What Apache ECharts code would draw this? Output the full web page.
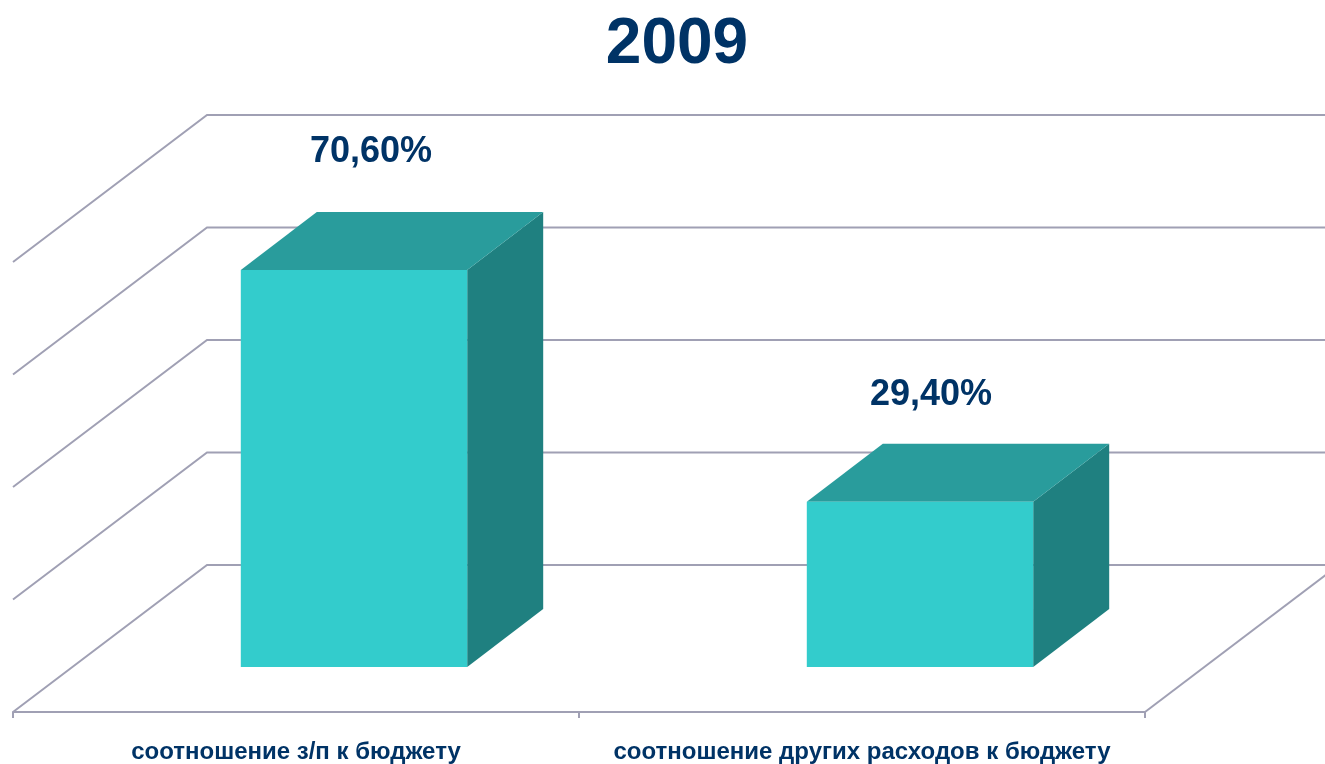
<!DOCTYPE html>
<html>
<head>
<meta charset="utf-8">
<style>html,body{margin:0;padding:0;background:#fff}#c{width:1325px;height:764px}</style>
<script src="https://cdn.jsdelivr.net/npm/echarts@6/dist/echarts.min.js"></script>
</head>
<body>
<div id="c"></div>
<script>
const titleText = '2009';
const categories = ['соотношение з/п к бюджету', 'соотношение других расходов к бюджету'];
const values = [70.6, 29.4];
const valueLabels = ['70,60%', '29,40%'];
const yTicks = [0, 20, 40, 60, 80];

// drawing constants for the oblique projection
const wallDepth = [194, -147];
const barOffset = [58, -45];
const barDepth = [76, -58];
const barWidthRatio = 0.4;
const labelShiftX = [17, 11];
const labelLift = [60, 49];

const navy = '#003366', gridColor = '#A0A0B4';

const chart = echarts.init(document.getElementById('c'), null, {renderer: 'canvas'});

function wallItem(params, api) {
  const cs = params.coordSys;
  const v = api.value(1);
  const y = api.coord([0, v])[1];
  const x0 = cs.x, x1 = cs.x + cs.width;
  const bx = x0 + wallDepth[0], by = y + wallDepth[1];
  const children = [{
    type: 'polyline',
    shape: {points: [[x0, y], [bx, by], [x1 + wallDepth[0], by]]},
    style: {stroke: gridColor, lineWidth: 2, fill: null}
  }];
  if (v === 0) {
    children.push({
      type: 'line',
      shape: {x1: x1, y1: y, x2: x1 + wallDepth[0], y2: by},
      style: {stroke: gridColor, lineWidth: 2}
    });
  }
  return {type: 'group', children};
}

function barItem(params, api) {
  const i = api.value(0);
  const top = api.coord([i, api.value(1)]);
  const base = api.coord([i, 0]);
  const w = api.size([1, 0])[0] * barWidthRatio;
  const xl = top[0] - w / 2 + barOffset[0], xr = xl + w;
  const yt = top[1] + barOffset[1], yb = base[1] + barOffset[1];
  const dx = barDepth[0], dy = barDepth[1];
  return {type: 'group', children: [
    {type: 'polygon', shape: {points: [[xr, yt], [xr + dx, yt + dy], [xr + dx, yb + dy], [xr, yb]]},
      style: {fill: '#1F8080'}},
    {type: 'polygon', shape: {points: [[xl, yt], [xl + dx, yt + dy], [xr + dx, yt + dy], [xr, yt]]},
      style: {fill: '#299C9C'}},
    {type: 'rect', shape: {x: xl, y: yt, width: w, height: yb - yt},
      style: {fill: '#33CCCC'}},
    {type: 'text', x: (xl + xr) / 2 + labelShiftX[i], y: yt + dy - labelLift[i],
      style: {text: valueLabels[i], fill: navy, align: 'center', verticalAlign: 'middle',
        font: 'bold 36px "Liberation Sans", Arial, sans-serif'}}
  ]};
}

chart.setOption({
  animation: false,
  backgroundColor: '#ffffff',
  title: {
    text: titleText, left: 672, top: 8, textAlign: 'center',
    textStyle: {color: navy, fontSize: 64, fontWeight: 'bold', fontFamily: '"Liberation Sans", Arial, sans-serif'}
  },
  grid: {left: 13, top: 262, width: 1132, height: 450, containLabel: false},
  xAxis: {
    type: 'category', data: categories,
    axisLine: {lineStyle: {color: gridColor, width: 2}},
    axisTick: {show: true, length: 6, alignWithLabel: false, lineStyle: {color: gridColor, width: 2}},
    axisLabel: {color: navy, fontSize: 24, fontWeight: 'bold', margin: 28, interval: 0,
      fontFamily: '"Liberation Sans", Arial, sans-serif'}
  },
  yAxis: {type: 'value', min: 0, max: 80, interval: 20, show: false, splitLine: {show: false}},
  series: [
    {type: 'custom', silent: true, clip: false, z: 1, renderItem: wallItem,
      data: yTicks.map(v => [0, v]), encode: {x: 0, y: 1}},
    {type: 'custom', silent: true, clip: false, z: 3, renderItem: barItem,
      data: values.map((v, i) => [i, v]), encode: {x: 0, y: 1}}
  ]
});
</script>
</body>
</html>
